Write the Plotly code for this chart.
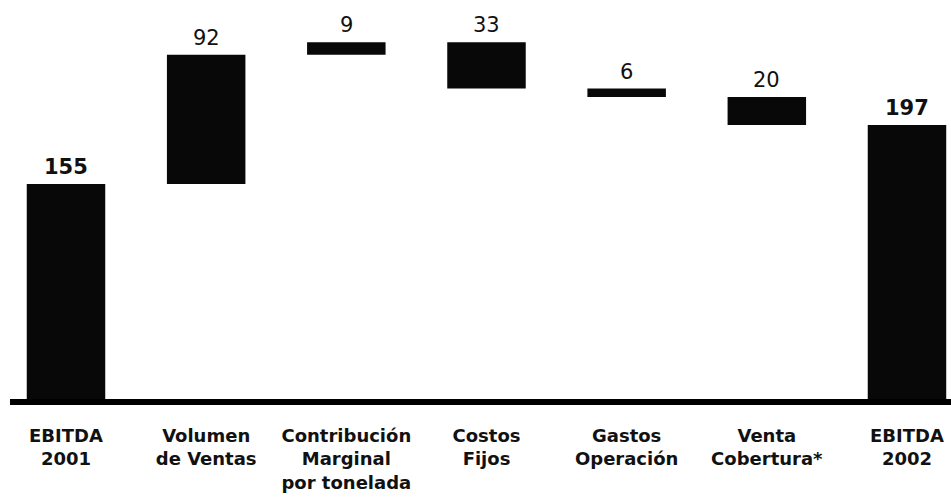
import plotly.graph_objects as go

# EBITDA bridge 2001 -> 2002
categories = [
    "EBITDA<br>2001",
    "Volumen<br>de Ventas",
    "Contribución<br>Marginal<br>por tonelada",
    "Costos<br>Fijos",
    "Gastos<br>Operación",
    "Venta<br>Cobertura*",
    "EBITDA<br>2002",
]
values = [155, 92, 9, -33, -6, -20, 197]
measures = ["absolute", "relative", "relative", "relative", "relative", "relative", "absolute"]

# top of each bar, used to place the value labels
tops = []
running = 0
for v, m in zip(values, measures):
    if m == "absolute":
        running = v
        tops.append(v)
    else:
        start = running
        running += v
        tops.append(max(start, running))

BAR = "#080808"
FONT = "DejaVu Sans, Liberation Sans, Arial, sans-serif"

fig = go.Figure()
fig.add_trace(go.Waterfall(
    x=list(range(len(categories))),
    y=values,
    measure=measures,
    width=0.56,
    increasing=dict(marker=dict(color=BAR)),
    decreasing=dict(marker=dict(color=BAR)),
    totals=dict(marker=dict(color=BAR)),
    connector=dict(visible=False),
    hoverinfo="skip",
))

# value labels above each bar (totals in bold)
for i, (v, m, t) in enumerate(zip(values, measures, tops)):
    txt = str(abs(v))
    fig.add_annotation(
        x=i, y=t, xref="x", yref="y",
        text=f"<b>{txt}</b>" if m == "absolute" else txt,
        showarrow=False, yanchor="bottom", yshift=3,
        font=dict(family=FONT, size=21, color="#111"),
    )

# thick base line
fig.add_shape(type="line", xref="paper", yref="y", x0=0, x1=1, y0=0, y1=0,
              line=dict(color="#000", width=6), layer="above")

fig.update_layout(
    width=951, height=500,
    margin=dict(l=10, r=0, t=0, b=95),
    paper_bgcolor="white", plot_bgcolor="white",
    showlegend=False,
    xaxis=dict(
        range=[-0.3995, 6.314],
        tickmode="array",
        tickvals=list(range(len(categories))),
        ticktext=[f"<b>{c}</b>" for c in categories],
        tickfont=dict(family=FONT, size=18, color="#111"),
        showgrid=False, zeroline=False, showline=False,
        ticks="", ticklabelstandoff=18,
    ),
    yaxis=dict(range=[-2.2, 286], visible=False),
)

fig.write_html("out.html")
